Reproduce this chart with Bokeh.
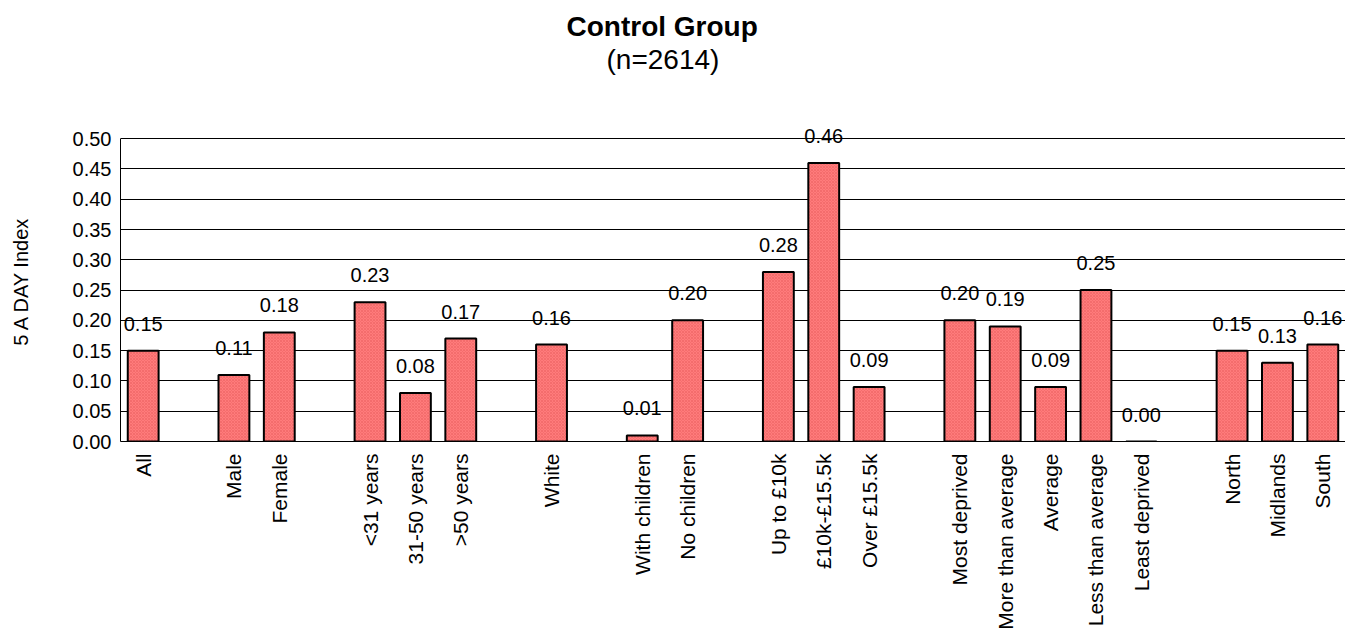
from bokeh.plotting import figure
from bokeh.models import Range1d, FixedTicker, Title, ColumnDataSource, LabelSet
from bokeh.core.properties import value
from bokeh.embed import file_html
from bokeh.resources import INLINE
import math

# ---- data ----
categories = ["All", "Male", "Female", "<31 years", "31-50 years", ">50 years",
              "White", "With children", "No children", "Up to £10k", "£10k-£15.5k",
              "Over £15.5k", "Most deprived", "More than average", "Average",
              "Less than average", "Least deprived", "North", "Midlands", "South"]
slots = [0, 2, 3, 5, 6, 7, 9, 11, 12, 14, 15, 16, 18, 19, 20, 21, 22, 24, 25, 26]
values = [0.15, 0.11, 0.18, 0.23, 0.08, 0.17, 0.16, 0.01, 0.20, 0.28, 0.46,
          0.09, 0.20, 0.19, 0.09, 0.25, 0.00, 0.15, 0.13, 0.16]
value_labels = ["%.2f" % v for v in values]
y_ticks = [0.0, 0.05, 0.10, 0.15, 0.20, 0.25, 0.30, 0.35, 0.40, 0.45, 0.50]
y_tick_labels = ["0.00", "0.05", "0.10", "0.15", "0.20", "0.25", "0.30", "0.35",
                 "0.40", "0.45", "0.50"]
title_text = "Control Group"
subtitle_text = "(n=2614)"
y_label = "5 A DAY Index"

FONT = "Liberation Sans"

src = ColumnDataSource(dict(x=slots, top=values, lab=value_labels))

# the frame reaches a little above 0.50 so the top value label is not clipped
p = figure(frame_width=1225, frame_height=321, output_backend="svg",
           toolbar_location=None, x_range=Range1d(-0.5, 26.5),
           y_range=Range1d(0, 0.53), min_border_left=120, min_border_right=0,
           min_border_top=0, min_border_bottom=0)
p.title.visible = False

# titles (first added sits closest to the plot)
spacer = Title(text=" ", text_font_size="40px", standoff=0)
sub = Title(text=subtitle_text, align="left", offset=486, text_font=FONT,
            text_font_size="28px", text_font_style="normal",
            text_color="black", standoff=0)
main = Title(text=title_text, align="left", offset=446, text_font=FONT,
             text_font_size="28px", text_font_style="bold",
             text_color="black", standoff=0)
top_spacer = Title(text=" ", text_font_size="6px", standoff=0)
p.add_layout(spacer, "above")
p.add_layout(sub, "above")
p.add_layout(main, "above")
p.add_layout(top_spacer, "above")

p.vbar(x="x", top="top", width=0.68, source=src, fill_color="#FF7B7B",
       line_color="black", line_width=2,
       hatch_pattern="diagonal_cross", hatch_color="#E05050", hatch_alpha=0.35,
       hatch_scale=3, hatch_weight=1)

labels = LabelSet(x="x", y="top", text="lab", source=src, text_align="center",
                  text_baseline="alphabetic", y_offset=20,
                  text_font=value(FONT), text_font_size=value("20px"),
                  text_color="black")
p.add_layout(labels)

# axes
p.xgrid.visible = False
p.ygrid.grid_line_color = "black"
p.ygrid.grid_line_width = 1
p.ygrid.ticker = FixedTicker(ticks=y_ticks)
p.outline_line_color = None

p.yaxis.ticker = FixedTicker(ticks=y_ticks)
p.yaxis.bounds = (y_ticks[0], y_ticks[-1])
p.yaxis.major_label_overrides = {t: l for t, l in zip(y_ticks, y_tick_labels)}
p.yaxis.major_tick_out = 0
p.yaxis.major_tick_in = 0
p.yaxis.minor_tick_out = 0
p.yaxis.minor_tick_in = 0
p.yaxis.major_label_standoff = 9
p.yaxis.major_label_text_font = FONT
p.yaxis.major_label_text_font_size = "20px"
p.yaxis.major_label_text_color = "black"
p.yaxis.axis_line_color = "black"
p.yaxis.axis_label = y_label
p.yaxis.axis_label_text_font = FONT
p.yaxis.axis_label_text_font_size = "20px"
p.yaxis.axis_label_text_font_style = "normal"
p.yaxis.axis_label_text_color = "black"
p.yaxis.axis_label_standoff = 38

p.xaxis.ticker = FixedTicker(ticks=slots)
p.xaxis.major_label_overrides = {s: c for s, c in zip(slots, categories)}
p.xaxis.major_label_orientation = math.pi / 2
p.xaxis.major_tick_out = 0
p.xaxis.major_tick_in = 0
p.xaxis.minor_tick_out = 0
p.xaxis.minor_tick_in = 0
p.xaxis.major_label_standoff = 12
p.xaxis.major_label_text_font = FONT
p.xaxis.major_label_text_font_size = "21px"
p.xaxis.major_label_text_color = "black"
p.xaxis.axis_line_color = "black"

open("out.html", "w").write(file_html(p, INLINE))
